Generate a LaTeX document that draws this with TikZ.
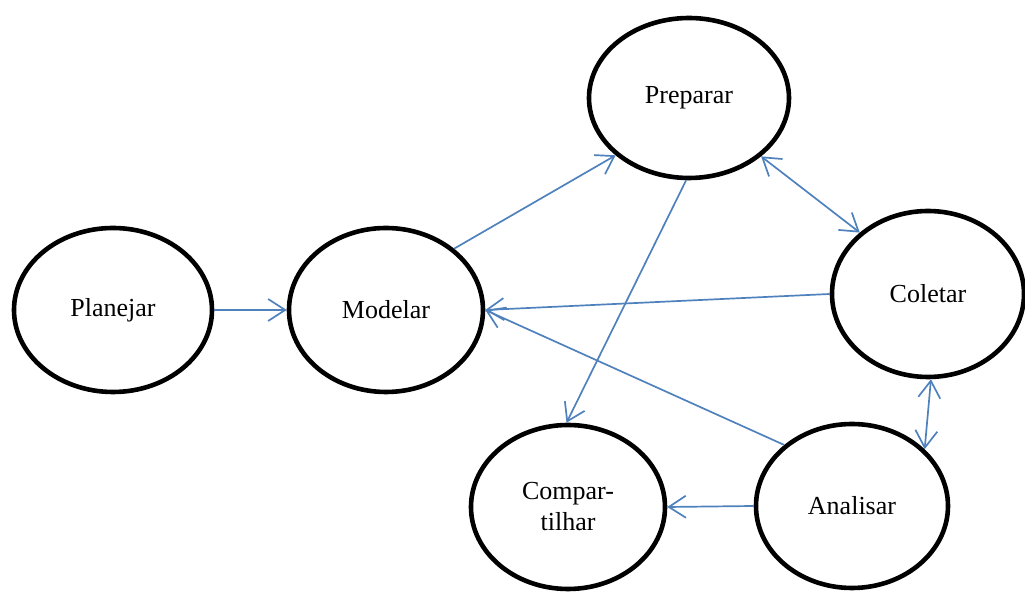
\documentclass[tikz,border=0pt]{standalone}
\usepackage{fontspec}
\setmainfont{Liberation Serif}
\usetikzlibrary{shapes.geometric,arrows.meta}
\definecolor{flowblue}{RGB}{79,129,189}
\begin{document}
\begin{tikzpicture}[x=0.5pt,y=-0.5pt,
  stage/.style={ellipse,draw=black,line width=2.3pt,inner sep=0pt,
    font=\fontsize{13}{15.5}\selectfont,align=center},
  flow/.style={draw=flowblue,line width=0.85pt,
    -{Straight Barb[length=8.5pt,width=11pt]}},
  twoway/.style={flow,{Straight Barb[length=8.5pt,width=11pt]}-{Straight Barb[length=8.5pt,width=11pt]}}]
  \useasboundingbox (0,0) rectangle (1025,592);
  % stages of the cycle
  \node[stage,minimum width=99pt,minimum height=82pt] (plan) at (113,310) {Planejar};
  \node[stage,minimum width=97pt,minimum height=82pt] (model) at (386,310) {Modelar};
  \node[stage,minimum width=100pt,minimum height=80pt] (prep) at (689,98) {Preparar};
  \node[stage,minimum width=96pt,minimum height=83pt] (colet) at (928,294) {Coletar};
  \node[stage,minimum width=96pt,minimum height=82pt] (analis) at (852,506) {Analisar};
  \node[stage,minimum width=97pt,minimum height=82pt] (share) at (568,507) {Compar-\\tilhar};
  % connectors
  \draw[flow] (plan.east) -- (model.west);
  \draw[flow] (model.42) -- (prep.218);
  \draw[twoway] (prep.321) -- (colet.138);
  \draw[flow] (colet.180) -- (model.east);
  \draw[flow] (analis.138.5) -- (model.east);
  \draw[flow] (prep.268.6) -- (share.91);
  \draw[twoway] (colet.272) -- (analis.38.7);
  \draw[flow] (analis.west) -- (share.east);
\end{tikzpicture}
\end{document}
